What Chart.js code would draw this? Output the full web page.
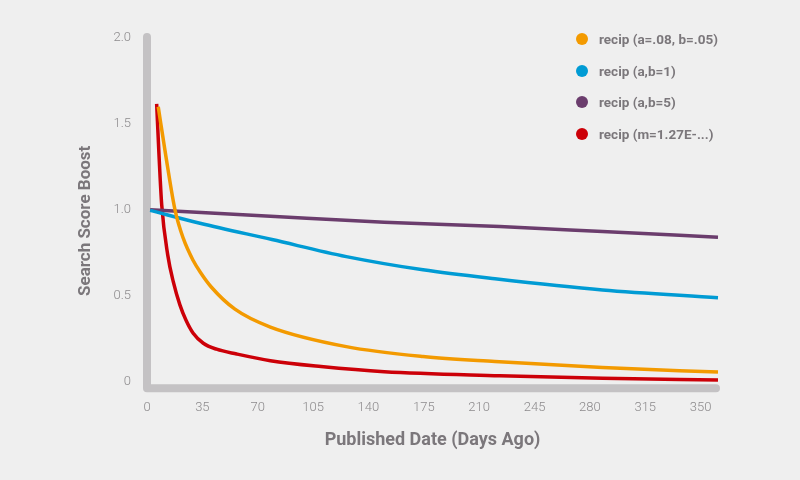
<!DOCTYPE html>
<html>
<head>
<meta charset="utf-8">
<script src="https://cdn.jsdelivr.net/npm/chart.js@4"></script>
<style>
html, body { margin: 0; padding: 0; background: #efefef; }
#wrap { position: relative; width: 800px; height: 480px; }
#legend { position: absolute; left: 576px; top: 30px; font-family: Roboto, sans-serif; font-weight: bold; font-size: 13.5px; color: #7b777b; }
#legend div { height: 31.7px; line-height: 18px; white-space: nowrap; }
#legend span { display: inline-block; width: 12px; height: 12px; border-radius: 50%; margin-right: 11px; vertical-align: -1px; }
</style>
</head>
<body>
<div id="wrap">
<canvas id="boostChart" width="800" height="480"></canvas>
<div id="legend"></div>
</div>
<script>
// =========================
// DATA
// =========================
const seriesNames = ["recip (a=.08, b=.05)", "recip (a,b=1)", "recip (a,b=5)", "recip (m=1.27E-...)"];
const seriesColors = ["#f39a00", "#009bd4", "#6b3d6d", "#cc0008"];

const orangeDays = [7.1, 11.8, 17.7, 22.9, 29.2, 33.5, 40.9, 55.6, 78, 126, 174.5, 220, 288, 361];
const orangeVals = [1.60, 1.32, 1.0, 0.835, 0.705, 0.64, 0.548, 0.422, 0.318, 0.204, 0.146, 0.117, 0.082, 0.056];

const blueDays = [2, 33.5, 79, 126, 174.5, 220, 288, 361];
const blueVals = [0.997, 0.922, 0.827, 0.728, 0.651, 0.599, 0.534, 0.489];

const purpleDays = [2, 81, 150, 223, 288, 361];
const purpleVals = [1.0, 0.961, 0.928, 0.903, 0.874, 0.841];

const redDays = [6.1, 7.6, 9.3, 13.1, 16.6, 20.8, 24.6, 29.2, 35.6, 44, 56.7, 78, 110, 150, 223, 288, 361];
const redVals = [1.617, 1.317, 1.029, 0.738, 0.582, 0.447, 0.359, 0.282, 0.224, 0.189, 0.161, 0.122, 0.088, 0.058, 0.035, 0.02, 0.01];

const xTicks = [0, 35, 70, 105, 140, 175, 210, 245, 280, 315, 350];
const yTicks = [0, 0.5, 1.0, 1.5, 2.0];
const yTitle = "Search Score Boost";

function toPoints(days, vals) {
return days.map((d, i) => ({ x: d, y: vals[i] }));
}

const allSeries = [
toPoints(orangeDays, orangeVals),
toPoints(blueDays, blueVals),
toPoints(purpleDays, purpleVals),
toPoints(redDays, redVals)
];

// =========================
// THICK L-SHAPED AXES + Y TITLE
// =========================
const axisBars = {
id: "axisBars",
beforeDatasetsDraw(chart) {
const { ctx, scales: { x, y }, chartArea } = chart;
const x0 = x.getPixelForValue(0);
const yBase = y.getPixelForValue(0) + 6.5;
ctx.save();
ctx.strokeStyle = "#c4c2c4";
ctx.lineWidth = 8;
ctx.lineCap = "round";
ctx.lineJoin = "round";
ctx.beginPath();
ctx.moveTo(x0, y.getPixelForValue(2) - 1);
ctx.lineTo(x0, yBase);
ctx.lineTo(chartArea.right - 2, yBase);
ctx.stroke();

// y title sits a bit below the middle of the axis in the original
ctx.translate(86, (chartArea.top + chartArea.bottom) / 2 + 11);
ctx.rotate(-Math.PI / 2);
ctx.fillStyle = "#7b777b";
ctx.font = "bold 17px Roboto";
ctx.textAlign = "center";
ctx.textBaseline = "middle";
ctx.fillText(yTitle, 0, 0);
ctx.restore();
}
};

const tickFont = { family: "Roboto", size: 13, weight: "300" };
const titleFont = { family: "Roboto", size: 18, weight: "bold" };

const chart = new Chart(document.getElementById("boostChart"), {
type: "line",
data: {
datasets: allSeries.map((pts, i) => ({
label: seriesNames[i],
data: pts,
borderColor: seriesColors[i],
backgroundColor: seriesColors[i],
borderWidth: 3.5,
pointRadius: 0,
cubicInterpolationMode: "monotone",
fill: false,
clip: false
}))
},
options: {
responsive: false,
animation: false,
layout: { padding: { top: 38, right: 82, left: 0, bottom: 0 } },
plugins: {
legend: { display: false },
tooltip: { enabled: false }
},
scales: {
x: {
type: "linear",
min: 0,
max: 361,
grid: { display: false, drawTicks: false },
border: { display: false },
afterBuildTicks: (s) => { s.ticks = xTicks.map(v => ({ value: v })); },
afterFit: (s) => { s.height = 98.3; },
ticks: { color: "#8c8a8c", font: tickFont, padding: 18, maxRotation: 0 },
title: { display: true, text: "Published Date (Days Ago)", color: "#7b777b", font: titleFont, padding: { bottom: 29 } }
},
y: {
min: 0,
max: 2,
grid: { display: false, drawTicks: false },
border: { display: false },
afterBuildTicks: (s) => { s.ticks = yTicks.map(v => ({ value: v })); },
afterFit: (s) => { s.width = 147; },
ticks: {
color: "#8c8a8c",
font: tickFont,
padding: 16,
callback: (v) => v === 0 ? "0" : v.toFixed(1)
}
}
}
},
plugins: [axisBars]
});

// =========================
// LEGEND (html overlay)
// =========================
const legendBox = document.getElementById("legend");
chart.data.datasets.forEach(ds => {
const row = document.createElement("div");
const dot = document.createElement("span");
dot.style.background = ds.borderColor;
row.appendChild(dot);
row.appendChild(document.createTextNode(ds.label));
legendBox.appendChild(row);
});
</script>
</body>
</html>
